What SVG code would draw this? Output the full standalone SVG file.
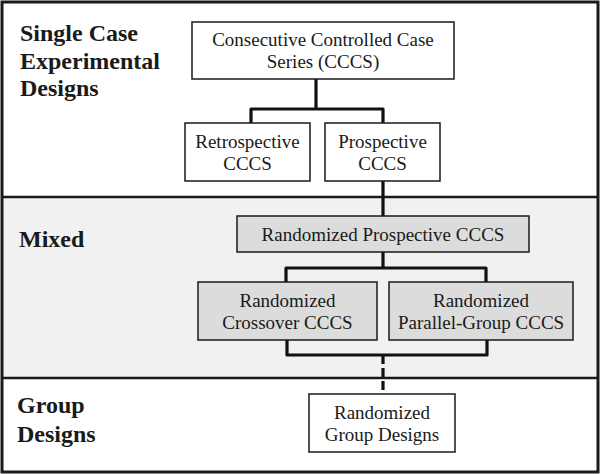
<svg xmlns="http://www.w3.org/2000/svg" width="600" height="474" viewBox="0 0 600 474">
<style>
.sec{font-family:"Liberation Serif","Times New Roman",serif;font-weight:bold;font-size:24px;fill:#1a1a1a}
.lbl{font-family:"Liberation Serif","Times New Roman",serif;font-size:19px;fill:#1a1a1a;text-anchor:middle}
.box{fill:#fff;stroke:#1a1a1a;stroke-width:1.5}
.gbox{fill:#dcdcdc;stroke:#1a1a1a;stroke-width:1.5}
.con{fill:none;stroke:#111;stroke-width:3.2;stroke-linejoin:round}
</style>
<rect x="0" y="0" width="600" height="474" fill="#fff"/>
<g id="sections">
<rect x="2" y="2" width="596" height="195" fill="#fff"/>
<rect x="2" y="197" width="596" height="181" fill="#f1f1f1"/>
<rect x="2" y="378" width="596" height="94" fill="#fff"/>
<line x1="2" y1="197" x2="598" y2="197" stroke="#1a1a1a" stroke-width="2.5"/>
<line x1="2" y1="378" x2="598" y2="378" stroke="#1a1a1a" stroke-width="2.5"/>
<rect x="2" y="2" width="596" height="470" fill="none" stroke="#1a1a1a" stroke-width="3"/>
<text class="sec" x="20" y="41">Single Case</text>
<text class="sec" x="20" y="68.5">Experimental</text>
<text class="sec" x="20" y="96">Designs</text>
<text class="sec" x="19" y="247">Mixed</text>
<text class="sec" x="17" y="413">Group</text>
<text class="sec" x="17" y="441.5">Designs</text>
</g>
<g id="connectors">
<line class="con" x1="316" y1="79" x2="316" y2="109"/>
<polyline class="con" points="251,123 251,109 383,109 383,123"/>
<line class="con" x1="383" y1="181" x2="383" y2="216"/>
<line class="con" x1="383" y1="252" x2="383" y2="268"/>
<polyline class="con" points="286,282 286,268 486,268 486,282"/>
<polyline class="con" points="287,340 287,355 487,355 487,340"/>
<line class="con" x1="383" y1="355" x2="383" y2="394" stroke-dasharray="9,4"/>
</g>
<g id="n_cccs">
<rect class="box" x="192" y="22" width="262" height="57"/>
<text class="lbl" x="323" y="45.5">Consecutive Controlled Case</text>
<text class="lbl" x="323" y="68">Series (CCCS)</text>
</g>
<g id="n_retro">
<rect class="box" x="185" y="123" width="125" height="58"/>
<text class="lbl" x="247.5" y="147.5">Retrospective</text>
<text class="lbl" x="247.5" y="169.5">CCCS</text>
</g>
<g id="n_prosp">
<rect class="box" x="325" y="123" width="115" height="58"/>
<text class="lbl" x="382.5" y="147.5">Prospective</text>
<text class="lbl" x="382.5" y="169.5">CCCS</text>
</g>
<g id="n_randprosp">
<rect class="gbox" x="237" y="216" width="292" height="36"/>
<text class="lbl" x="383" y="240.5">Randomized Prospective CCCS</text>
</g>
<g id="n_crossover">
<rect class="gbox" x="198" y="282" width="179" height="58"/>
<text class="lbl" x="287.5" y="306.5">Randomized</text>
<text class="lbl" x="287.5" y="329">Crossover CCCS</text>
</g>
<g id="n_parallel">
<rect class="gbox" x="389" y="282" width="184" height="58"/>
<text class="lbl" x="481" y="306.5">Randomized</text>
<text class="lbl" x="481" y="329">Parallel-Group CCCS</text>
</g>
<g id="n_group">
<rect class="box" x="309" y="394" width="146" height="58"/>
<text class="lbl" x="382" y="418.5">Randomized</text>
<text class="lbl" x="382" y="440.5">Group Designs</text>
</g>
</svg>
